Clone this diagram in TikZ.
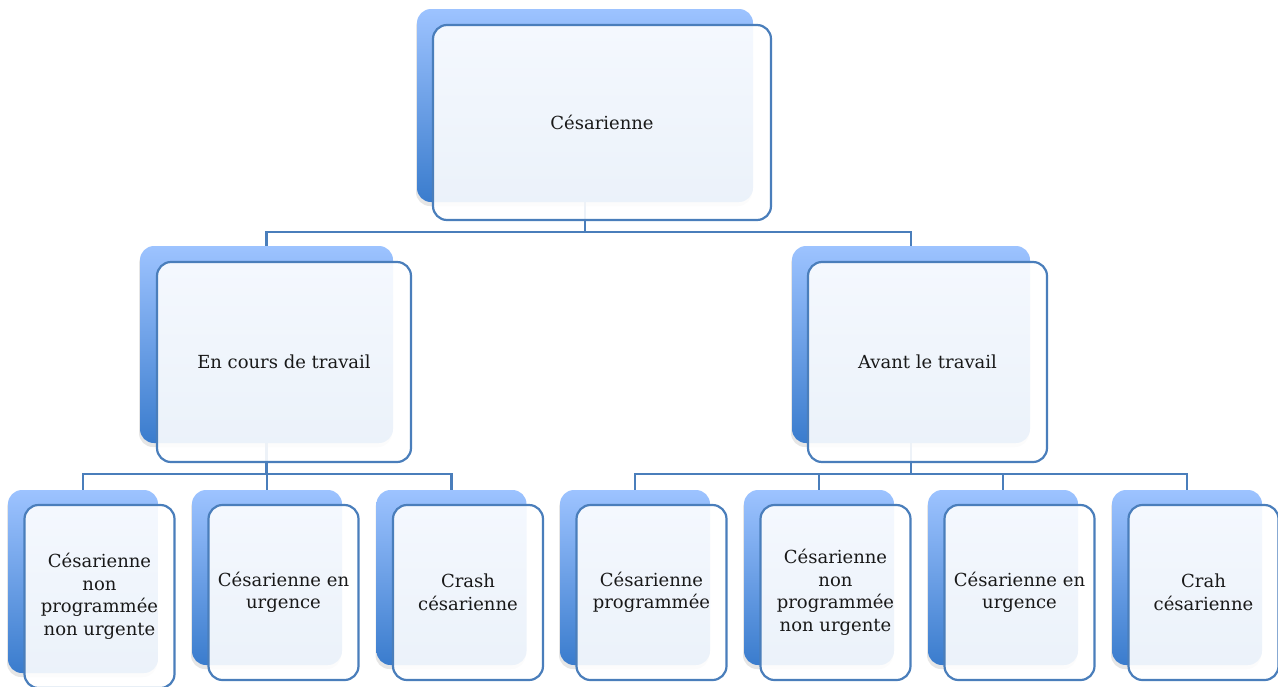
\documentclass[tikz,border=0pt]{standalone}
\usepackage{fontspec}
\setmainfont{DejaVu Serif}
\usetikzlibrary{calc}
\usetikzlibrary{shadows}
\usetikzlibrary{backgrounds}
\definecolor{lineblue}{RGB}{74,126,187}
\definecolor{boxtop}{RGB}{157,195,255}
\definecolor{boxbot}{RGB}{58,124,205}
\tikzstyle{backbox} = [rectangle, rounded corners=14pt, inner sep=0pt, top color=boxtop, bottom color=boxbot, drop shadow={shadow xshift=-1pt, shadow yshift=-4pt, opacity=0.2}]
\tikzstyle{frontbox} = [rectangle, rounded corners=14pt, inner sep=0pt, draw=lineblue, line width=2.2pt, fill=white, fill opacity=0.9, text opacity=1, text=black!90, align=center, font=\fontsize{18}{22.5}\selectfont]
\tikzstyle{leafsize} = [minimum width=150pt, minimum height=175pt]
\tikzstyle{link} = [draw=lineblue, line width=2.2pt]

\begin{document}
\begin{tikzpicture}[x=1pt, y=-1pt]
  \useasboundingbox (0,0) rectangle (1278,686);

  \node[backbox, minimum width=336pt, minimum height=193pt] (ces_b) at (585,105.5) {};
  \node[frontbox, minimum width=338pt, minimum height=195pt] (ces) at ($(ces_b)+(17,17)$) {Césarienne};

  \node[backbox, minimum width=253pt, minimum height=197pt] (cours_b) at (266.5,344.5) {};
  \node[frontbox, minimum width=254pt, minimum height=200pt] (cours) at ($(cours_b)+(17.5,17.5)$) {En cours de travail};
  \node[backbox, minimum width=238pt, minimum height=197pt] (avant_b) at (911,344.5) {};
  \node[frontbox, minimum width=239pt, minimum height=200pt] (avant) at ($(avant_b)+(16.5,17.5)$) {Avant le travail};

  \node[backbox, leafsize, minimum height=183pt] (nonprog_b) at (83,581.5) {};
  \node[frontbox, leafsize, minimum height=183pt] (nonprog) at ($(nonprog_b)+(16.5,15)$) {Césarienne\\non\\programmée\\non urgente};
  \node[backbox, leafsize] (urg_b) at (267,577.5) {};
  \node[frontbox, leafsize] (urg) at ($(urg_b)+(16.5,15)$) {Césarienne en\\urgence};
  \node[backbox, leafsize] (crash_b) at (451.5,577.5) {};
  \node[frontbox, leafsize] (crash) at ($(crash_b)+(16.5,15)$) {Crash\\césarienne};

  \node[backbox, leafsize] (prog_b) at (635,577.5) {};
  \node[frontbox, leafsize] (prog) at ($(prog_b)+(16.5,15)$) {Césarienne\\programmée};
  \node[backbox, leafsize] (nonprogB_b) at (819,577.5) {};
  \node[frontbox, leafsize] (nonprogB) at ($(nonprogB_b)+(16.5,15)$) {Césarienne\\non\\programmée\\non urgente};
  \node[backbox, leafsize] (urgB_b) at (1003,577.5) {};
  \node[frontbox, leafsize] (urgB) at ($(urgB_b)+(16.5,15)$) {Césarienne en\\urgence};
  \node[backbox, leafsize] (crah_b) at (1187,577.5) {};
  \node[frontbox, leafsize] (crah) at ($(crah_b)+(16.5,15)$) {Crah\\césarienne};

  \begin{scope}[on background layer]
    \draw[link] (ces_b.south) -- ++(0,30) -| (cours_b.north);
    \draw[link] (ces_b.south) -- ++(0,30) -| (avant_b.north);

    \draw[link] (cours_b.south) -- ++(0,31) -| (nonprog_b.north);
    \draw[link] (cours_b.south) -- ++(0,31) -| (urg_b.north);
    \draw[link] (cours_b.south) -- ++(0,31) -| (crash_b.north);

    \draw[link] (avant_b.south) -- ++(0,31) -| (prog_b.north);
    \draw[link] (avant_b.south) -- ++(0,31) -| (nonprogB_b.north);
    \draw[link] (avant_b.south) -- ++(0,31) -| (urgB_b.north);
    \draw[link] (avant_b.south) -- ++(0,31) -| (crah_b.north);
  \end{scope}
\end{tikzpicture}
\end{document}
